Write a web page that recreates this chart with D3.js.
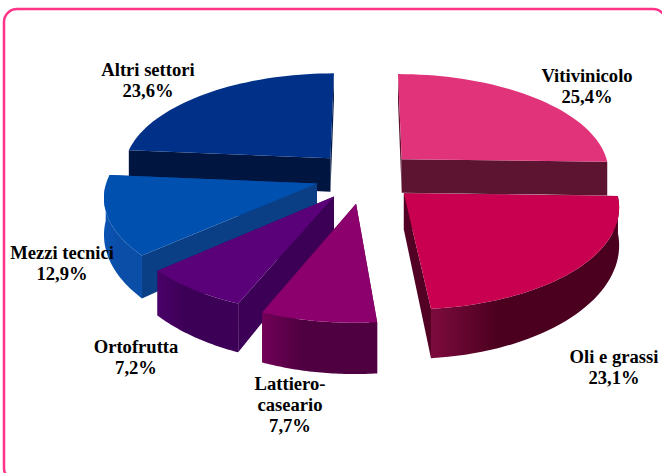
<!DOCTYPE html>
<html>
<head>
<meta charset="utf-8">
<script src="https://cdn.jsdelivr.net/npm/d3@7"></script>
<style>
  html, body { margin: 0; padding: 0; background: #fff; overflow: hidden; }
  svg { display: block; }
  text { font-family: "Liberation Serif", serif; font-weight: bold; font-size: 18.6px; fill: #000; text-anchor: middle; }
</style>
</head>
<body>
<svg></svg>
<script>
const categories = ['Vitivinicolo', 'Oli e grassi', 'Lattiero-caseario', 'Ortofrutta', 'Mezzi tecnici', 'Altri settori'];
const values = [25.4, 23.1, 7.7, 7.2, 12.9, 23.6];
const labelLines = [['Vitivinicolo'], ['Oli e grassi'], ['Lattiero-', 'caseario'], ['Ortofrutta'], ['Mezzi tecnici'], ['Altri settori']];
const topColors = ['#e0337a', '#c8004f', '#8c006e', '#5a0078', '#0050b0', '#003088'];
const wallColors = ['#5c1430', '#520024', '#560044', '#3c0056', '#0a3f86', '#001540'];
const edgeColors = ['#7a1c44', '#7d0b3d', '#720058', '#4a0068', '#0b54b4', '#001f5c'];
const rimColors = ['#5c1430', '#4c0020', '#4e0040', '#3c0056', '#0a4ea8', '#001540'];
const explode = [0.25, 0.25, 0.275, 0.25, 0.24, 0.25];
const labelAt = [[587, 77], [614, 358], [290, 385], [136, 348], [62, 254], [148, 71]];
const drawOrder = [5, 0, 4, 3, 2, 1];

const width = 662, height = 473;
const cx = 365, cy = 176;
const R = 209, tilt = 98.5, k = 0.115, wall = 35;

const svg = d3.select('svg').attr('width', width).attr('height', height);

// frame, runs off the right and bottom of the picture
svg.append('rect')
  .attr('x', 4).attr('y', 9)
  .attr('width', 662).attr('height', 472)
  .attr('rx', 13)
  .attr('fill', '#fff')
  .attr('stroke', '#ff3388')
  .attr('stroke-width', 2.5);

const pie = d3.pie().sort(null).value(d => d);
const arcs = pie(values);

// ground plane point -> screen, h = 1 for the bottom of the slice
function project(X, Y, h) {
  const p = 1 / (1 - k * Y);
  const ph = 1 / (1 - 0.25 * Y);
  return [cx + R * X * p, cy + tilt * Y * p + (h ? wall * ph : 0)];
}

function slicePoints(a, i) {
  const mid = (a.startAngle + a.endAngle) / 2;
  const ox = explode[i] * Math.sin(mid), oy = -explode[i] * Math.cos(mid);
  const angles = d3.range(0, 41).map(n => a.startAngle + (a.endAngle - a.startAngle) * n / 40);
  return {
    apex: [ox, oy],
    rim: angles.map(t => [ox + Math.sin(t), oy - Math.cos(t)])
  };
}

const line = d3.line();
const defs = svg.append('defs');

drawOrder.forEach(i => {
  const s = slicePoints(arcs[i], i);
  const g = svg.append('g').attr('class', 'slice');
  const first = s.rim[0], last = s.rim[s.rim.length - 1];

  // straight walls
  [first, last].forEach(p => {
    g.append('path')
      .attr('d', line([project(s.apex[0], s.apex[1], 0), project(p[0], p[1], 0), project(p[0], p[1], 1), project(s.apex[0], s.apex[1], 1)]) + 'Z')
      .attr('fill', wallColors[i]);
  });

  // curved wall, only the part facing the viewer
  const front = s.rim.filter(p => p[1] >= s.apex[1]);
  if (front.length > 1) {
    const xs = front.map(p => project(p[0], p[1], 0)[0]);
    const id = 'edge' + i;
    const grad = defs.append('linearGradient').attr('id', id)
      .attr('gradientUnits', 'userSpaceOnUse')
      .attr('x1', d3.min(xs)).attr('x2', d3.max(xs)).attr('y1', 0).attr('y2', 0);
    grad.append('stop').attr('offset', 0).attr('stop-color', edgeColors[i]);
    grad.append('stop').attr('offset', 0.35).attr('stop-color', rimColors[i]);
    grad.append('stop').attr('offset', 1).attr('stop-color', rimColors[i]);
    const up = front.map(p => project(p[0], p[1], 0));
    const down = front.map(p => project(p[0], p[1], 1)).reverse();
    g.append('path').attr('d', line(up.concat(down)) + 'Z').attr('fill', `url(#${id})`);
  }

  // top face
  const top = [project(s.apex[0], s.apex[1], 0)].concat(s.rim.map(p => project(p[0], p[1], 0)));
  g.append('path').attr('d', line(top) + 'Z').attr('fill', topColors[i]);
});

// labels
const labels = svg.selectAll('text.label')
  .data(categories)
  .join('text')
  .attr('class', 'label')
  .attr('transform', (d, i) => `translate(${labelAt[i][0]},${labelAt[i][1]})`);

labels.each(function (d, i) {
  const t = d3.select(this);
  labelLines[i].concat(d3.format('.1f')(values[i]).replace('.', ',') + '%').forEach((l, n) => {
    t.append('tspan').attr('x', 0).attr('dy', n ? 21 : 5).text(l);
  });
});
</script>
</body>
</html>
